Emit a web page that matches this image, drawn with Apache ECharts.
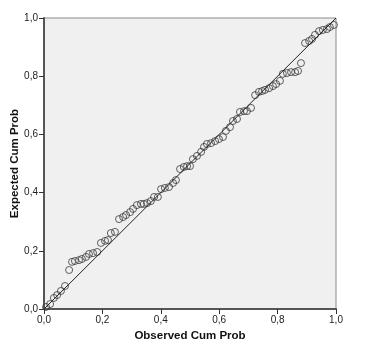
<!DOCTYPE html>
<html>
<head>
<meta charset="utf-8">
<script src="https://cdn.jsdelivr.net/npm/echarts@6/dist/echarts.min.js"></script>
<style>
  html, body { margin: 0; padding: 0; background: #ffffff; }
  #chart { width: 369px; height: 348px; }
</style>
</head>
<body>
<div id="chart"></div>
<script>
// Observed cumulative probability (x) and expected cumulative probability (y)
var observedCumProb = [
  0.007, 0.021, 0.034, 0.045, 0.058, 0.072, 0.086, 0.096, 0.106, 0.120,
  0.130, 0.144, 0.154, 0.168, 0.182, 0.195, 0.209, 0.219, 0.229, 0.243,
  0.257, 0.271, 0.281, 0.295, 0.305, 0.318, 0.332, 0.342, 0.353, 0.366,
  0.377, 0.390, 0.401, 0.414, 0.428, 0.442, 0.452, 0.466, 0.479, 0.490,
  0.500, 0.510, 0.524, 0.538, 0.548, 0.558, 0.572, 0.586, 0.599, 0.613,
  0.623, 0.637, 0.647, 0.661, 0.671, 0.685, 0.695, 0.709, 0.723, 0.736,
  0.747, 0.757, 0.771, 0.784, 0.795, 0.808, 0.818, 0.832, 0.846, 0.860,
  0.870, 0.880, 0.894, 0.908, 0.918, 0.928, 0.942, 0.955, 0.969, 0.979,
  0.993
];
var expectedCumProb = [
  0.007, 0.017, 0.038, 0.048, 0.062, 0.079, 0.134, 0.162, 0.165, 0.168,
  0.172, 0.179, 0.189, 0.192, 0.196, 0.227, 0.234, 0.237, 0.261, 0.265,
  0.309, 0.316, 0.323, 0.333, 0.344, 0.357, 0.361, 0.361, 0.364, 0.371,
  0.385, 0.385, 0.412, 0.416, 0.419, 0.433, 0.443, 0.481, 0.488, 0.491,
  0.491, 0.515, 0.526, 0.540, 0.557, 0.567, 0.570, 0.577, 0.584, 0.591,
  0.612, 0.625, 0.646, 0.653, 0.677, 0.680, 0.680, 0.691, 0.735, 0.746,
  0.749, 0.753, 0.759, 0.766, 0.773, 0.784, 0.808, 0.811, 0.814, 0.814,
  0.818, 0.845, 0.914, 0.921, 0.928, 0.942, 0.955, 0.959, 0.962, 0.969,
  0.976
];
// Reference diagonal (expected = observed)
var diagonalX = [0, 1];
var diagonalY = [0, 1];
// Axis tick labels (decimal comma)
var tickValues = [0, 0.2, 0.4, 0.6, 0.8, 1.0];
var tickLabels = ['0,0', '0,2', '0,4', '0,6', '0,8', '1,0'];

function tickLabel(v) {
  for (var i = 0; i < tickValues.length; i++) {
    if (Math.abs(tickValues[i] - v) < 1e-6) return tickLabels[i];
  }
  return '';
}

var points = observedCumProb.map(function (x, i) { return [x, expectedCumProb[i]]; });
var diagonal = diagonalX.map(function (x, i) { return [x, diagonalY[i]]; });

var fontFamily = '"Liberation Sans", Arial, sans-serif';

var axisCommon = {
  type: 'value',
  min: 0,
  max: 1,
  interval: 0.2,
  splitLine: { show: false },
  axisLine: { show: true, lineStyle: { color: '#555555', width: 2 } },
  axisTick: { show: true, length: 5, lineStyle: { color: '#333333', width: 1 } },
  axisLabel: {
    formatter: tickLabel,
    fontFamily: fontFamily,
    fontSize: 10,
    color: '#222222'
  },
  nameLocation: 'middle',
  nameMoveOverlap: false,
  nameTextStyle: {
    fontFamily: fontFamily,
    fontSize: 11.5,
    fontWeight: 'bold',
    color: '#111111'
  }
};

var chart = echarts.init(document.getElementById('chart'), null, { renderer: 'canvas' });
chart.setOption({
  animation: false,
  backgroundColor: '#ffffff',
  grid: {
    left: 44,
    right: 33,
    top: 18,
    bottom: 39,
    containLabel: false,
    outerBoundsMode: 'none',
    show: true,
    backgroundColor: '#f0f0f0',
    borderColor: '#8a8a8a',
    borderWidth: 1
  },
  xAxis: Object.assign({}, axisCommon, {
    name: 'Observed Cum Prob',
    nameGap: 21,
    axisLabel: Object.assign({}, axisCommon.axisLabel, { margin: 6 })
  }),
  yAxis: Object.assign({}, axisCommon, {
    name: 'Expected Cum Prob',
    nameGap: 23,
    axisLabel: Object.assign({}, axisCommon.axisLabel, { margin: 6 })
  }),
  series: [
    {
      type: 'line',
      data: diagonal,
      symbol: 'none',
      lineStyle: { color: '#222222', width: 1 },
      silent: true,
      z: 3
    },
    {
      type: 'scatter',
      data: points,
      symbol: 'circle',
      symbolSize: 7,
      itemStyle: {
        color: 'rgba(0,0,0,0)',
        borderColor: '#3a3a3a',
        borderWidth: 1
      },
      z: 2
    }
  ]
});
</script>
</body>
</html>
